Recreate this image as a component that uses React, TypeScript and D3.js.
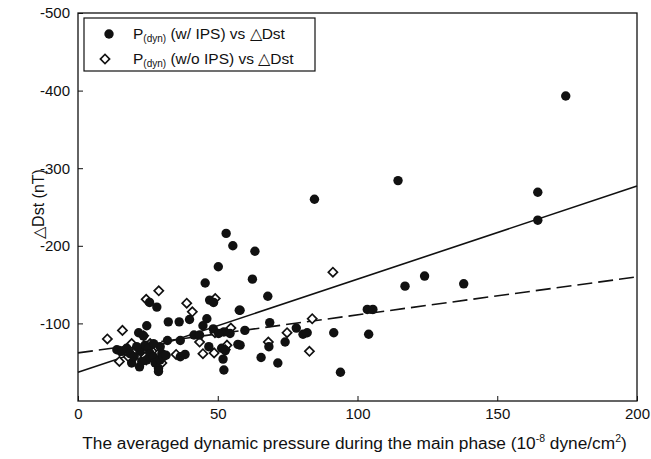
import React, { useEffect, useRef } from 'react';
import * as d3 from 'd3';

// P(dyn) with IPS vs delta Dst  [pressure, dDst]
const withIps: [number, number][] = [
  [174.5, -393], [164.5, -269], [164.5, -233], [114.5, -284], [84.6, -260],
  [124, -161], [117, -148], [138, -151], [103.5, -118], [105.5, -118],
  [104, -86], [91.5, -88], [93.9, -37], [71.5, -49], [65.5, -56],
  [68.3, -70], [74.1, -76], [78.1, -94], [80.5, -86], [82, -88],
  [68.6, -101], [67.9, -135], [62.4, -157], [63.3, -193], [59.7, -91],
  [58, -117], [58, -72], [53, -216], [55.4, -200], [50.2, -173],
  [45.5, -152], [47.1, -130], [48.5, -127], [57.7, -117], [39.9, -105],
  [36.2, -102], [32.3, -102], [46.1, -106], [44.7, -97], [48.4, -93],
  [52.2, -89], [54.4, -87], [50.3, -87], [41.5, -85], [43.5, -85],
  [46.8, -70], [57.2, -73], [51.4, -68], [52.7, -65], [51.9, -54],
  [52.2, -40], [36.6, -57], [38.3, -60], [32, -78], [36.6, -78],
  [24.6, -97], [28.2, -121], [25.6, -127], [21.7, -88], [23.4, -84],
  [13.9, -66], [15.7, -64], [17.4, -68], [18.6, -61], [19.2, -49],
  [22, -44], [20.1, -57], [22.2, -64], [24, -72], [25.2, -68],
  [25.8, -61], [24.6, -53], [27, -57], [27.6, -49], [28.8, -42],
  [28.8, -38], [29.4, -53], [30, -61], [29.4, -70], [30.5, -57],
  [22.8, -51], [27, -74], [21, -70], [31.5, -59],
];

// P(dyn) without IPS vs delta Dst
const withoutIps: [number, number][] = [
  [91.2, -166], [83.8, -106], [74.8, -88], [68.1, -76], [82.8, -64],
  [49.1, -132], [38.9, -126], [40.9, -115], [49, -88], [54.7, -94],
  [43.5, -76], [53.3, -72], [52.7, -66], [44.7, -61], [48.7, -62],
  [35.1, -60], [28.9, -142], [24.4, -131], [23.5, -84], [15.9, -91],
  [10.5, -80], [14.8, -51], [15, -64], [18, -57], [20.4, -64],
  [24, -57], [24.4, -53], [28.2, -70], [28.8, -61], [30, -49],
  [25.8, -74], [19.2, -74],
];

// linear fits: [intercept, slope]
const fitWithIps = [-37, -1.2];
const fitWithoutIps = [-62, -0.49];

const xTicks = [0, 50, 100, 150, 200];
const yTicks = [-100, -200, -300, -400, -500];

export default function App() {
  const svgRef = useRef<SVGSVGElement>(null);

  useEffect(() => {
    if (!svgRef.current) return;
    const svg = d3.select(svgRef.current);
    svg.selectAll('*').remove();

    const left = 78;
    const right = 637;
    const top = 13;
    const bottom = 401;
    const font = 'Arial, "Liberation Sans", sans-serif';

    const x = d3.scaleLinear().domain([0, 200]).range([left, right]);
    const y = d3.scaleLinear().domain([0, -500]).range([bottom, top]);

    // frame
    svg
      .append('rect')
      .attr('x', left)
      .attr('y', top)
      .attr('width', right - left)
      .attr('height', bottom - top)
      .attr('fill', 'none')
      .attr('stroke', '#111')
      .attr('stroke-width', 1.3);

    // axes (ticks inward)
    const xAxis = svg
      .append('g')
      .attr('transform', `translate(0,${bottom})`)
      .call(d3.axisBottom(x).tickValues(xTicks).tickSizeInner(-5).tickSizeOuter(0).tickPadding(7));
    xAxis.select('.domain').remove();

    const yAxis = svg
      .append('g')
      .attr('transform', `translate(${left},0)`)
      .call(
        d3
          .axisLeft(y)
          .tickValues(yTicks)
          .tickSizeInner(-5)
          .tickSizeOuter(0)
          .tickPadding(8)
          .tickFormat((d) => `${d}`)
      );
    yAxis.select('.domain').remove();

    svg
      .selectAll('.tick text')
      .attr('font-family', font)
      .attr('font-size', 15)
      .attr('fill', '#111');
    svg.selectAll('.tick line').attr('stroke', '#111');

    // fit lines, evaluated at the ends of the x domain
    const fitLine = d3
      .line<[number, number]>()
      .x((d) => x(d[0]))
      .y((d) => y(d[1]));
    const drawFit = (fit: number[], dash: string | null) => {
      const pts = x.domain().map((v) => [v, fit[0] + fit[1] * v] as [number, number]);
      svg
        .append('path')
        .datum(pts)
        .attr('d', fitLine)
        .attr('fill', 'none')
        .attr('stroke', '#111')
        .attr('stroke-width', 1.6)
        .attr('stroke-dasharray', dash);
    };
    drawFit(fitWithIps, null);
    drawFit(fitWithoutIps, '15,6');

    // diamonds
    const diamond = d3.symbol().type(d3.symbolSquare).size(42);
    svg
      .append('g')
      .selectAll('path')
      .data(withoutIps)
      .enter()
      .append('path')
      .attr('d', diamond)
      .attr('transform', (d) => `translate(${x(d[0])},${y(d[1])}) rotate(45)`)
      .attr('fill', 'white')
      .attr('stroke', '#111')
      .attr('stroke-width', 1.7);

    // filled circles
    svg
      .append('g')
      .selectAll('circle')
      .data(withIps)
      .enter()
      .append('circle')
      .attr('cx', (d) => x(d[0]))
      .attr('cy', (d) => y(d[1]))
      .attr('r', 4.7)
      .attr('fill', '#111');

    // legend
    const lg = svg.append('g');
    lg.append('rect')
      .attr('x', 84)
      .attr('y', 18)
      .attr('width', 231)
      .attr('height', 53)
      .attr('fill', 'white')
      .attr('stroke', '#111')
      .attr('stroke-width', 1.2);
    lg.append('circle').attr('cx', 109).attr('cy', 34).attr('r', 4.7).attr('fill', '#111');
    lg.append('path')
      .attr('d', diamond)
      .attr('transform', 'translate(105,59) rotate(45)')
      .attr('fill', 'white')
      .attr('stroke', '#111')
      .attr('stroke-width', 1.7);
    const labels = ['(w/ IPS) vs \u25B3Dst', '(w/o IPS) vs \u25B3Dst'];
    labels.forEach((lab, i) => {
      const t = lg
        .append('text')
        .attr('x', 133)
        .attr('y', 39 + i * 25)
        .attr('font-family', font)
        .attr('font-size', 15.5)
        .attr('fill', '#111');
      t.append('tspan').text('P');
      t.append('tspan').attr('font-size', 10).attr('dy', 3).text('(dyn)');
      t.append('tspan').attr('dy', -3).text(' ' + lab);
    });

    // axis titles
    const xt = svg
      .append('text')
      .attr('x', (left + right) / 2 - 3)
      .attr('y', 449)
      .attr('text-anchor', 'middle')
      .attr('font-family', font)
      .attr('font-size', 17.3)
      .attr('fill', '#111');
    xt.append('tspan').text('The averaged dynamic pressure during the main phase (10');
    xt.append('tspan').attr('font-size', 10.5).attr('dy', -7).text('-8');
    xt.append('tspan').attr('dy', 7).text(' dyne/cm');
    xt.append('tspan').attr('font-size', 10.5).attr('dy', -7).text('2');
    xt.append('tspan').attr('dy', 7).text(')');

    svg
      .append('text')
      .attr('transform', 'translate(44,204) rotate(-90)')
      .attr('text-anchor', 'middle')
      .attr('font-family', font)
      .attr('font-size', 16)
      .attr('fill', '#111')
      .text('\u25B3Dst (nT)');
  }, []);

  return (
    <svg
      ref={svgRef}
      width={651}
      height={459}
      style={{ position: 'absolute', left: 0, top: 0, background: 'white' }}
    />
  );
}
